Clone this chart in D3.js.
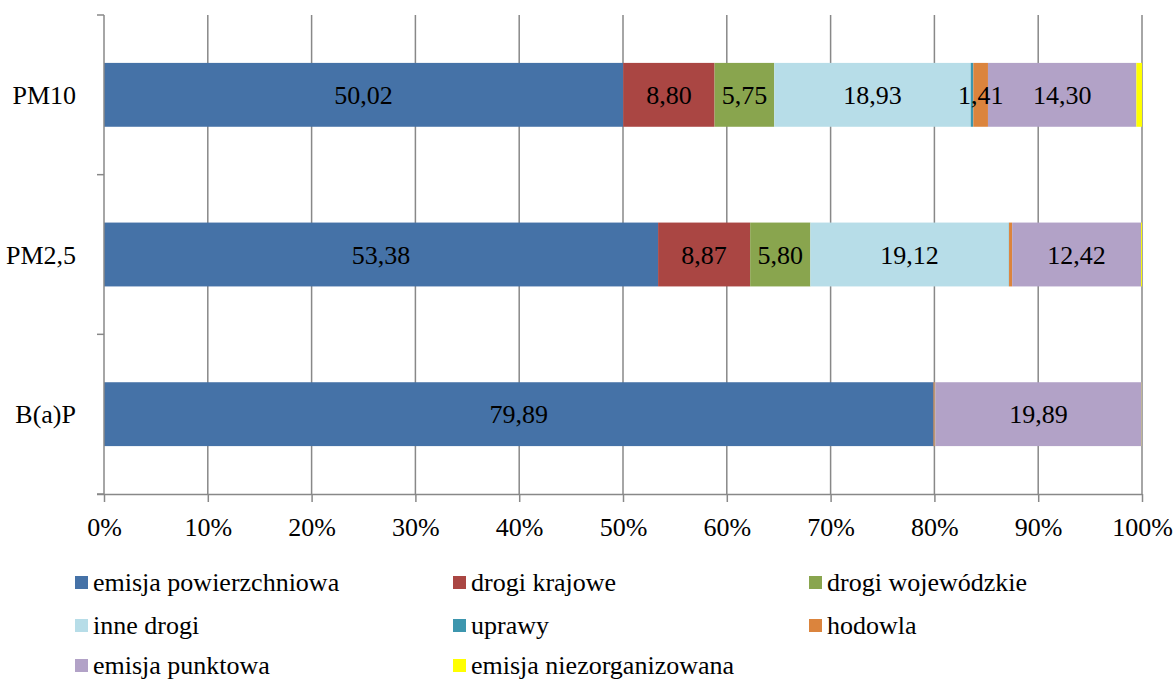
<!DOCTYPE html>
<html>
<head>
<meta charset="utf-8">
<script src="https://cdn.jsdelivr.net/npm/d3@7"></script>
</head>
<body style="margin:0">
<svg id="chart"></svg>
<script>
const categories = ['PM10', 'PM2,5', 'B(a)P'];
const seriesNames = [
  'emisja powierzchniowa', 'drogi krajowe', 'drogi wojewódzkie',
  'inne drogi', 'uprawy', 'hodowla',
  'emisja punktowa', 'emisja niezorganizowana'
];
const seriesColors = ['#4572A7', '#AA4643', '#89A54E', '#B7DDE8', '#3D96AE', '#DB843D', '#B2A2C7', '#FFFF00'];
// values in %, per category, ordered as seriesNames
const pm10 = [50.02, 8.80, 5.75, 18.93, 0.25, 1.41, 14.30, 0.54];
const pm25 = [53.38, 8.87, 5.80, 19.12, 0.02, 0.30, 12.42, 0.09];
const bap = [79.89, 0.05, 0.03, 0.04, 0.00, 0.08, 19.89, 0.02];
const values = [pm10, pm25, bap];
const xTicks = [0, 10, 20, 30, 40, 50, 60, 70, 80, 90, 100];

const FONT = 'Liberation Serif';
const FS = 26;
const size = { width: 1173, height: 680 };
const margin = { left: 104, right: 31, top: 15, bottom: 186 };

const svg = d3.select('#chart').attr('width', size.width).attr('height', size.height);

const x = d3.scaleLinear().domain([0, 100]).range([margin.left, size.width - margin.right]);
const y = d3.scaleBand().domain(categories).range([margin.top, size.height - margin.bottom]).padding(0);
const barH = y.bandwidth() * 0.4;

// grid lines
svg.append('g')
  .selectAll('line')
  .data(xTicks.slice(1))
  .enter()
  .append('line')
  .attr('x1', (d) => x(d)).attr('x2', (d) => x(d))
  .attr('y1', margin.top).attr('y2', size.height - margin.bottom)
  .attr('stroke', '#888').attr('stroke-width', 1.5);

// stacked bars
const rows = categories.map((c, i) => {
  let acc = 0;
  return values[i].map((v, j) => {
    const seg = { cat: c, name: seriesNames[j], color: seriesColors[j], v, x0: acc, x1: acc + v };
    acc += v;
    return seg;
  });
});

const barG = svg.append('g');
rows.forEach((row) => {
  barG.selectAll(null)
    .data(row.filter((d) => d.v > 0))
    .enter()
    .append('rect')
    .attr('x', (d) => x(d.x0))
    .attr('y', (d) => y(d.cat) + (y.bandwidth() - barH) / 2)
    .attr('width', (d) => x(d.x1) - x(d.x0))
    .attr('height', barH)
    .attr('fill', (d) => d.color);
  barG.selectAll(null)
    .data(row.filter((d) => d.v >= 1))
    .enter()
    .append('text')
    .attr('x', (d) => (x(d.x0) + x(d.x1)) / 2)
    .attr('y', (d) => y(d.cat) + y.bandwidth() / 2 + 9)
    .attr('text-anchor', 'middle')
    .attr('font-family', FONT)
    .attr('font-size', FS)
    .text((d) => d.v.toFixed(2).replace('.', ','));
});

// x axis
const xAxis = svg.append('g')
  .attr('transform', `translate(0, ${size.height - margin.bottom})`)
  .call(d3.axisBottom(x).tickValues(xTicks).tickSize(8).tickFormat(() => ''));
xAxis.select('.domain').attr('stroke', '#888').attr('stroke-width', 1.5)
  .attr('d', `M${margin.left - 7},0.5H${size.width - margin.right}`);
xAxis.selectAll('.tick line').attr('stroke', '#888').attr('stroke-width', 1.5);
xAxis.selectAll('.tick')
  .append('text')
  .attr('y', 42)
  .attr('text-anchor', 'middle')
  .attr('fill', '#000')
  .attr('font-family', FONT)
  .attr('font-size', FS)
  .text((d) => d + '%');

// y axis
const yAxis = svg.append('g').attr('transform', `translate(${margin.left}, 0)`);
yAxis.append('line')
  .attr('x1', 0).attr('x2', 0)
  .attr('y1', margin.top).attr('y2', size.height - margin.bottom)
  .attr('stroke', '#888').attr('stroke-width', 1.5);
yAxis.selectAll('.ytick')
  .data(categories.map((c) => y(c)).concat([size.height - margin.bottom]))
  .enter()
  .append('line')
  .attr('x1', -7).attr('x2', 0)
  .attr('y1', (d) => d).attr('y2', (d) => d)
  .attr('stroke', '#888').attr('stroke-width', 1.5);
yAxis.selectAll('.ylabel')
  .data(categories)
  .enter()
  .append('text')
  .attr('x', -28)
  .attr('y', (d) => y(d) + y.bandwidth() / 2 + 9)
  .attr('text-anchor', 'end')
  .attr('font-family', FONT)
  .attr('font-size', FS)
  .text((d) => d);

// legend
const legendCols = [75, 453, 809];
const legendRows = [583, 626, 666];
const legend = svg.append('g')
  .selectAll('g')
  .data(seriesNames)
  .enter()
  .append('g')
  .attr('transform', (d, i) => `translate(${legendCols[i % 3]}, ${legendRows[Math.floor(i / 3)]})`);
legend.append('rect')
  .attr('x', 0).attr('y', -7).attr('width', 13).attr('height', 13)
  .attr('fill', (d, i) => seriesColors[i]);
legend.append('text')
  .attr('x', 18).attr('y', 8)
  .attr('font-family', FONT)
  .attr('font-size', FS)
  .text((d) => d);
</script>
</body>
</html>
